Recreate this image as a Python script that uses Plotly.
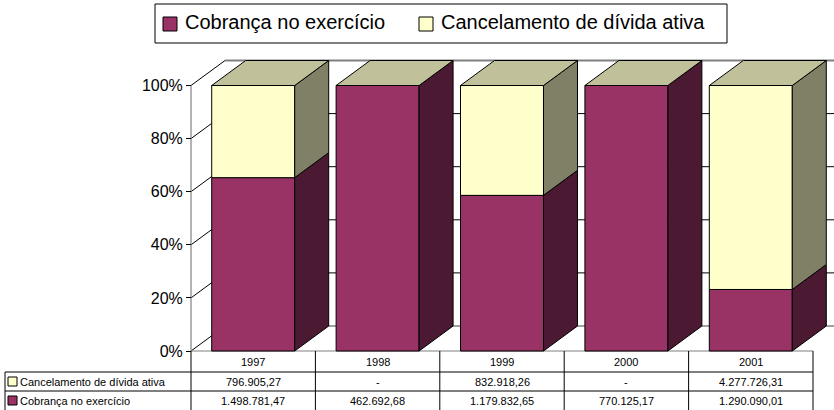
import plotly.graph_objects as go

# ---- data -------------------------------------------------------------
anos = ["1997", "1998", "1999", "2000", "2001"]
cobranca = [1498781.47, 462692.68, 1179832.65, 770125.17, 1290090.01]
cancelamento = [796905.27, 0.0, 832918.26, 0.0, 4277726.31]
nome_cobranca = "Cobrança no exercício"
nome_cancelamento = "Cancelamento de dívida ativa"
ticks_pct = [0, 20, 40, 60, 80, 100]

# ---- colours (front, side, top) --------------------------------------
COB = ("#993366", "#4C1933", "#73264D")
CAN = ("#FFFFCC", "#808066", "#C0C09A")
FONT = "Liberation Sans, Arial, sans-serif"

# ---- figure geometry (pixels) -----------------------------------------
W, H = 834, 410
X0 = 191.0          # left edge of the category axis
X_CAT = 124.4       # pixels per category
Y0 = 351.0          # 0 % line
Y_PCT = 2.655       # pixels per percentage point
DEPTH_X, DEPTH_Y = 34.0, 25.0
BAR_W = 0.667


def ux(p):
    """pixel column -> category units"""
    return -0.5 + (p - X0) / X_CAT


def uy(p):
    """pixel row -> percentage units"""
    return (Y0 - p) / Y_PCT


DX = DEPTH_X / X_CAT
DY = DEPTH_Y / Y_PCT
X_MIN, X_MAX = ux(0), ux(W)
Y_MIN, Y_MAX = uy(H), uy(0)
N = len(anos)

fig = go.Figure()
shapes = []
annotations = []


def line(x0, y0, x1, y1, color="#000000", width=1, layer="below"):
    shapes.append(dict(type="line", xref="x", yref="y", x0=x0, y0=y0, x1=x1, y1=y1,
                       line=dict(color=color, width=width), layer=layer))


def face(xs, ys, fill):
    fig.add_trace(go.Scatter(
        x=list(xs) + [xs[0]], y=list(ys) + [ys[0]], mode="lines", fill="toself",
        fillcolor=fill, line=dict(color="#000000", width=1),
        hoverinfo="skip", showlegend=False))


# ---- walls and floor --------------------------------------------------
for t in ticks_pct:
    # back wall gridline
    if t == 100:
        line(-0.5 + DX, t + DY, X_MAX, t + DY, "#808080", 2)
    elif t == 0:
        line(-0.5 + DX, t + DY, X_MAX, t + DY, "#808080", 1.5)
    else:
        line(-0.5 + DX, t + DY, X_MAX, t + DY, "#000000", 1)
    # side wall diagonal
    line(-0.5, t, -0.5 + DX, t + DY, "#000000", 1)

# value axis line and floor front edge
line(-0.5, 0, -0.5, 100, "#808080", 1.2)
line(-0.5, 0, N - 0.5, 0, "#808080", 1.2)

# ---- stacked 100 % bars -------------------------------------------------
for i in range(N):
    total = cobranca[i] + cancelamento[i]
    p_cob = 100.0 * cobranca[i] / total
    xl, xr = i - BAR_W / 2, i + BAR_W / 2
    for y0, y1, cols in ((0.0, p_cob, COB), (p_cob, 100.0, CAN)):
        if y1 - y0 <= 1e-9:
            continue
        face([xl, xr, xr, xl], [y0, y0, y1, y1], cols[0])
        face([xr, xr + DX, xr + DX, xr], [y0, y0 + DY, y1 + DY, y1], cols[1])
    # top cap of the stack
    face([xl, xr, xr + DX, xl + DX], [100, 100, 100 + DY, 100 + DY], CAN[2])

# ---- legend box -------------------------------------------------------
shapes.append(dict(type="rect", xref="x", yref="y", x0=ux(155), x1=ux(727),
                   y0=uy(4), y1=uy(43), line=dict(color="#000000", width=1),
                   fillcolor="rgba(0,0,0,0)", layer="above"))
legend_items = [(163, 183, COB[0], nome_cobranca), (419, 439, CAN[0], nome_cancelamento)]
for kx, tx, col, txt in legend_items:
    shapes.append(dict(type="rect", xref="x", yref="y", x0=ux(kx), x1=ux(kx + 14),
                       y0=uy(17), y1=uy(31), line=dict(color="#000000", width=1),
                       fillcolor=col, layer="above"))
    annotations.append(dict(x=ux(tx), y=uy(22), xref="x", yref="y", text=txt,
                            showarrow=False, xanchor="left", yanchor="middle",
                            font=dict(family=FONT, size=20, color="#000000")))

# ---- data table -------------------------------------------------------
ROW_TOP = [351, 372, 391]
ROW_BOT = 410
TAB_LEFT = 5
for j in range(N + 1):
    line(j - 0.5, uy(ROW_TOP[0]), j - 0.5, uy(ROW_BOT), "#000000", 1, "above")
for r in (ROW_TOP[1], ROW_TOP[2]):
    line(ux(TAB_LEFT), uy(r), N - 0.5, uy(r), "#000000", 1, "above")
line(ux(TAB_LEFT), uy(ROW_TOP[1]), ux(TAB_LEFT), uy(ROW_BOT), "#000000", 1, "above")


def fmt_br(v):
    if not v:
        return "-"
    s = f"{v:,.2f}"
    return s.replace(",", "_").replace(".", ",").replace("_", ".")


row_centers = [(ROW_TOP[0] + ROW_TOP[1]) / 2, (ROW_TOP[1] + ROW_TOP[2]) / 2,
               (ROW_TOP[2] + ROW_BOT) / 2]
rows = [anos, [fmt_br(v) for v in cancelamento], [fmt_br(v) for v in cobranca]]
for r, vals in enumerate(rows):
    for i, txt in enumerate(vals):
        annotations.append(dict(x=i, y=uy(row_centers[r]), xref="x", yref="y",
                                text=txt, showarrow=False, xanchor="center",
                                yanchor="middle",
                                font=dict(family=FONT, size=11, color="#000000")))

for r, (col, txt) in ((1, (CAN[0], nome_cancelamento)), (2, (COB[0], nome_cobranca))):
    yc = row_centers[r]
    shapes.append(dict(type="rect", xref="x", yref="y", x0=ux(8), x1=ux(17),
                       y0=uy(yc - 4.5), y1=uy(yc + 4.5),
                       line=dict(color="#000000", width=1), fillcolor=col,
                       layer="above"))
    annotations.append(dict(x=ux(18), y=uy(yc), xref="x", yref="y", text=txt,
                            showarrow=False, xanchor="left", yanchor="middle",
                            font=dict(family=FONT, size=11, color="#000000")))

# ---- layout -----------------------------------------------------------
fig.update_layout(
    width=W, height=H, margin=dict(l=0, r=0, t=0, b=0),
    paper_bgcolor="#FFFFFF", plot_bgcolor="#FFFFFF",
    showlegend=False, shapes=shapes, annotations=annotations,
    xaxis=dict(range=[X_MIN, X_MAX], visible=False, fixedrange=True),
    yaxis=dict(range=[Y_MIN, Y_MAX], anchor="free", position=X0 / W,
               tickvals=ticks_pct, ticktext=[f"{t}%" for t in ticks_pct],
               ticks="outside", ticklen=5, tickcolor="#000000",
               showgrid=False, zeroline=False, showline=False,
               tickfont=dict(family=FONT, size=16, color="#000000"),
               fixedrange=True),
)

fig.write_html("out.html")
